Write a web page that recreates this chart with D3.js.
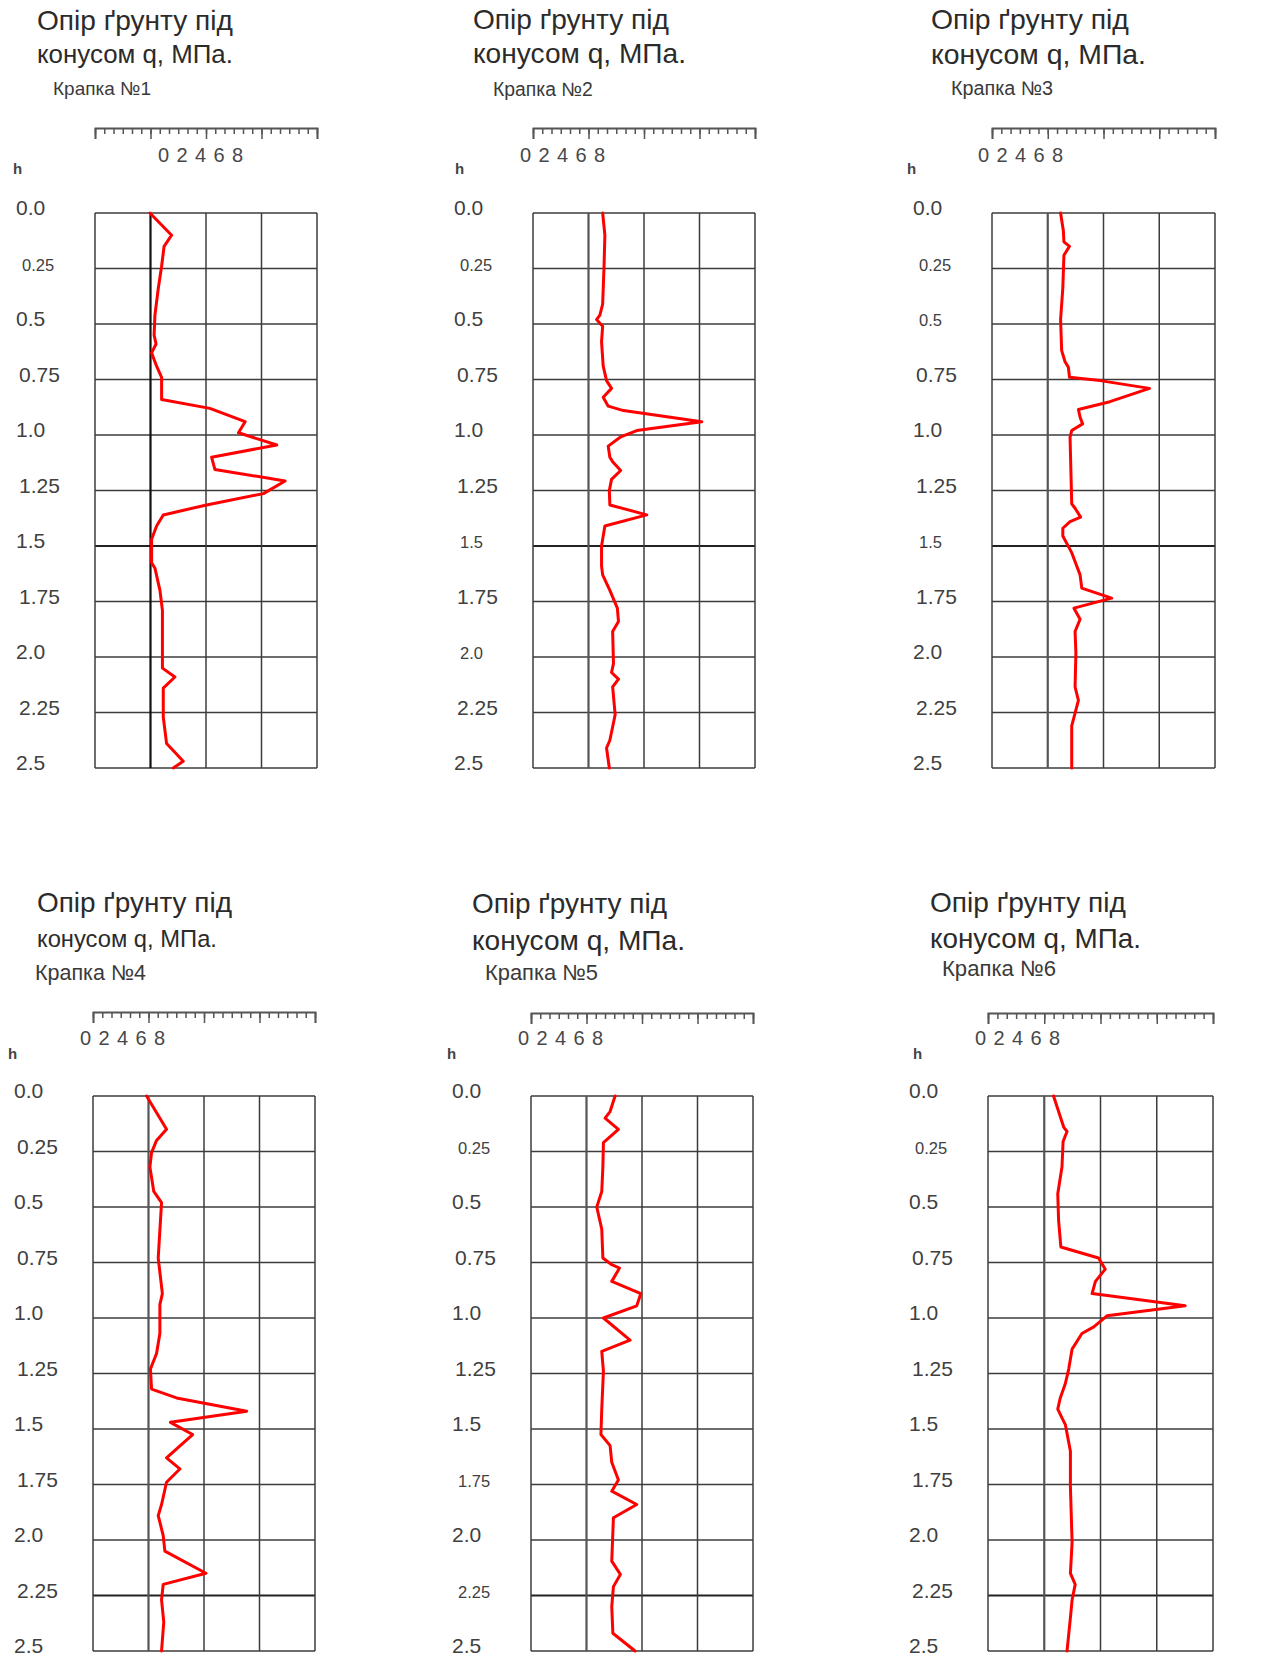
<!DOCTYPE html>
<html>
<head>
<meta charset="utf-8">
<script src="https://cdn.jsdelivr.net/npm/d3@7"></script>
<style>
  html, body { margin: 0; padding: 0; background: #fff; }
  svg { display: block; font-family: "Liberation Sans", Arial, sans-serif; }
</style>
</head>
<body>
<svg id="chart" width="1263" height="1663"></svg>
<script>
// ---- data ----
const depthTicks = [0, 0.25, 0.5, 0.75, 1.0, 1.25, 1.5, 1.75, 2.0, 2.25, 2.5];
const depthLabels = ["0.0", "0.25", "0.5", "0.75", "1.0", "1.25", "1.5", "1.75", "2.0", "2.25", "2.5"];
const qTicks = [0, 2, 4, 6, 8];
const qTickLabels = ["0", "2", "4", "6", "8"];
const titleLine1 = "Опір ґрунту під";
const titleLine2 = "конусом q, МПа.";
const depthAxisName = "h";
const pointNames = ["Крапка №1", "Крапка №2", "Крапка №3", "Крапка №4", "Крапка №5", "Крапка №6"];

// cone resistance q (MPa) against depth h (m) for every sounding point
const p1Depth = [0, 0.10, 0.15, 0.24, 0.34, 0.46, 0.55, 0.59, 0.63, 0.69, 0.74, 0.84, 0.88, 0.94, 0.99, 1.045, 1.10, 1.155, 1.207, 1.264, 1.315, 1.36, 1.41, 1.47, 1.575, 1.60, 1.70, 1.79, 2.05, 2.09, 2.14, 2.27, 2.39, 2.47, 2.5];
const p1Q     = [1.98, 2.76, 2.49, 2.40, 2.28, 2.16, 2.13, 2.20, 2.04, 2.22, 2.40, 2.40, 4.14, 5.41, 5.17, 6.55, 4.20, 4.32, 6.85, 6.07, 4.02, 2.46, 2.22, 2.04, 2.04, 2.16, 2.34, 2.43, 2.43, 2.88, 2.46, 2.46, 2.58, 3.18, 2.82];

const p2Depth = [0, 0.10, 0.24, 0.41, 0.46, 0.48, 0.51, 0.58, 0.69, 0.755, 0.79, 0.83, 0.87, 0.89, 0.94, 0.98, 1.01, 1.05, 1.10, 1.12, 1.16, 1.20, 1.25, 1.315, 1.36, 1.41, 1.50, 1.59, 1.63, 1.70, 1.78, 1.84, 1.885, 2.03, 2.07, 2.10, 2.135, 2.26, 2.375, 2.41, 2.5];
const p2Q     = [2.51, 2.59, 2.56, 2.51, 2.41, 2.29, 2.51, 2.47, 2.53, 2.65, 2.83, 2.53, 2.71, 3.26, 6.08, 3.74, 3.14, 2.71, 2.77, 2.87, 3.16, 2.83, 2.75, 2.77, 4.10, 2.59, 2.47, 2.47, 2.51, 2.77, 3.04, 3.08, 2.87, 2.90, 2.83, 3.08, 2.87, 2.96, 2.77, 2.65, 2.75];

const p3Depth = [0, 0.08, 0.13, 0.15, 0.19, 0.34, 0.48, 0.62, 0.67, 0.695, 0.74, 0.755, 0.79, 0.85, 0.885, 0.92, 0.95, 0.98, 1.01, 1.31, 1.33, 1.37, 1.39, 1.42, 1.455, 1.53, 1.63, 1.69, 1.735, 1.78, 1.83, 1.885, 1.98, 2.135, 2.195, 2.31, 2.5];
const p3Q     = [2.46, 2.56, 2.58, 2.78, 2.58, 2.54, 2.46, 2.50, 2.62, 2.74, 2.78, 3.88, 5.65, 4.23, 3.10, 3.16, 3.25, 2.86, 2.80, 2.86, 2.98, 3.18, 2.80, 2.54, 2.54, 2.86, 3.16, 3.22, 4.29, 2.94, 3.16, 2.98, 3.01, 2.98, 3.10, 2.86, 2.86];

const p4Depth = [0, 0.15, 0.20, 0.255, 0.32, 0.43, 0.48, 0.73, 0.89, 0.94, 1.07, 1.16, 1.23, 1.32, 1.36, 1.42, 1.47, 1.525, 1.63, 1.68, 1.74, 1.84, 1.89, 1.98, 2.05, 2.15, 2.20, 2.27, 2.37, 2.5];
const p4Q     = [1.93, 2.65, 2.29, 2.11, 2.05, 2.19, 2.47, 2.35, 2.50, 2.41, 2.41, 2.29, 2.07, 2.11, 3.01, 5.54, 2.79, 3.59, 2.65, 3.13, 2.65, 2.47, 2.35, 2.53, 2.59, 4.07, 2.53, 2.47, 2.55, 2.47];

const p5Depth = [0, 0.07, 0.10, 0.15, 0.21, 0.32, 0.43, 0.50, 0.60, 0.73, 0.76, 0.775, 0.835, 0.89, 0.945, 1.00, 1.10, 1.15, 1.24, 1.41, 1.525, 1.575, 1.65, 1.73, 1.78, 1.84, 1.90, 2.095, 2.155, 2.21, 2.30, 2.42, 2.5];
const p5Q     = [3.03, 2.85, 2.67, 3.15, 2.61, 2.59, 2.55, 2.37, 2.55, 2.59, 2.91, 3.19, 2.91, 3.96, 3.81, 2.61, 3.57, 2.55, 2.61, 2.55, 2.52, 2.85, 2.91, 3.15, 2.91, 3.81, 2.97, 2.91, 3.22, 2.97, 2.91, 2.95, 3.75];

const p6Depth = [0, 0.14, 0.16, 0.205, 0.32, 0.44, 0.56, 0.68, 0.73, 0.78, 0.835, 0.89, 0.945, 0.99, 1.04, 1.07, 1.14, 1.23, 1.295, 1.36, 1.41, 1.45, 1.48, 1.60, 1.76, 2.01, 2.15, 2.20, 2.27, 2.35, 2.5];
const p6Q     = [2.33, 2.69, 2.81, 2.67, 2.63, 2.48, 2.51, 2.59, 3.93, 4.17, 3.82, 3.70, 7.01, 4.23, 3.76, 3.34, 2.99, 2.87, 2.75, 2.57, 2.48, 2.63, 2.75, 2.93, 2.93, 2.99, 2.93, 3.10, 2.99, 2.93, 2.81];

const profiles = [
  [p1Depth, p1Q], [p2Depth, p2Q], [p3Depth, p3Q],
  [p4Depth, p4Q], [p5Depth, p5Q], [p6Depth, p6Q]
];

// ---- panel layout (pixels) ----
const panels = [
  { left: 95,  right: 317,  top: 213,  bottom: 768,  axisY: 128,  tickX: 158, tickY: 162,  hX: 13,  hY: 174,
    textX: 37,  l1Y: 30,  l2Y: 63,  l1W: 196, l2W: 196, subX: 53,  subY: 95,  subW: 98,  small: ["0.25"], strongDepth: 1.5,  strongQ: "#111" },
  { left: 533, right: 755,  top: 213,  bottom: 768,  axisY: 128,  tickX: 520, tickY: 162,  hX: 455, hY: 174,
    textX: 473, l1Y: 29,  l2Y: 63,  l1W: 196, l2W: 213, subX: 493, subY: 96,  subW: 100, small: ["0.25", "1.5", "2.0"], strongDepth: 1.5, strongQ: "#555" },
  { left: 992, right: 1215, top: 213,  bottom: 768,  axisY: 128,  tickX: 978, tickY: 162,  hX: 907, hY: 174,
    textX: 931, l1Y: 29,  l2Y: 64,  l1W: 198, l2W: 215, subX: 951, subY: 95,  subW: 102, small: ["0.25", "0.5", "1.5"], strongDepth: 1.5, strongQ: "#555" },
  { left: 93,  right: 315,  top: 1096, bottom: 1651, axisY: 1012, tickX: 80,  tickY: 1045, hX: 8,   hY: 1059,
    textX: 37,  l1Y: 912, l2Y: 947, l1W: 195, l2W: 180, subX: 35,  subY: 980, subW: 111, small: [], strongDepth: 2.25, strongQ: "#555" },
  { left: 531, right: 753,  top: 1096, bottom: 1651, axisY: 1013, tickX: 518, tickY: 1045, hX: 447, hY: 1059,
    textX: 472, l1Y: 913, l2Y: 950, l1W: 195, l2W: 213, subX: 485, subY: 980, subW: 113, small: ["0.25", "1.75", "2.25"], strongDepth: 2.25, strongQ: "#555" },
  { left: 988, right: 1213, top: 1096, bottom: 1651, axisY: 1013, tickX: 975, tickY: 1045, hX: 913, hY: 1059,
    textX: 930, l1Y: 912, l2Y: 948, l1W: 196, l2W: 211, subX: 942, subY: 976, subW: 114, small: ["0.25"], strongDepth: 2.25, strongQ: "#555" }
];

const svg = d3.select("#chart");

// sets a text's font size so that it spans the requested width
function fitText(sel, width) {
  sel.attr("font-size", 100);
  const w = sel.node().getComputedTextLength();
  sel.attr("font-size", (100 * width / w).toFixed(2));
}

const minorTicks = d3.range(0, 8.001, 1 / 3);

panels.forEach((p, i) => {
  const [depth, q] = profiles[i];
  const x = d3.scaleLinear().domain([0, 8]).range([p.left, p.right]);
  const y = d3.scaleLinear().domain([0, 2.5]).range([p.top, p.bottom]);
  const g = svg.append("g");

  // heading
  const t1 = g.append("text").attr("x", p.textX).attr("y", p.l1Y).attr("fill", "#2b2b2b").text(titleLine1);
  fitText(t1, p.l1W);
  const t2 = g.append("text").attr("x", p.textX).attr("y", p.l2Y).attr("fill", "#2b2b2b").text(titleLine2);
  fitText(t2, p.l2W);
  const t3 = g.append("text").attr("x", p.subX).attr("y", p.subY).attr("fill", "#3a3a3a").text(pointNames[i]);
  fitText(t3, p.subW);

  // top scale: major and minor ticks
  const axisMajor = d3.axisBottom(x).tickValues(qTicks).tickSize(11).tickSizeOuter(11).tickFormat("");
  const axisMinor = d3.axisBottom(x).tickValues(minorTicks).tickSize(6).tickSizeOuter(0).tickFormat("");
  const ga = g.append("g").attr("transform", `translate(0,${p.axisY})`);
  ga.call(axisMinor);
  ga.select(".domain").remove();
  const gb = g.append("g").attr("transform", `translate(0,${p.axisY})`);
  gb.call(axisMajor);
  g.selectAll(".tick line").attr("stroke", "#555").attr("stroke-width", 1.5);
  gb.select(".domain").attr("stroke", "#555").attr("stroke-width", 1.8);

  // compact tick labels
  const lx = d3.scalePoint().domain(qTickLabels).range([p.tickX + 5.5, p.tickX + 79.5]);
  g.append("g").selectAll("text").data(qTickLabels).join("text")
    .attr("x", d => lx(d)).attr("y", p.tickY)
    .attr("text-anchor", "middle").attr("font-size", 20).attr("fill", "#484848")
    .text(d => d);

  // depth axis name
  g.append("text").attr("x", p.hX).attr("y", p.hY).attr("font-size", 15).attr("font-weight", "bold")
    .attr("fill", "#444").text(depthAxisName);

  // grid
  const grid = g.append("g");
  grid.selectAll("line.h").data(depthTicks).join("line").attr("class", "h")
    .attr("x1", p.left).attr("x2", p.right)
    .attr("y1", d => y(d)).attr("y2", d => y(d))
    .attr("stroke", d => d === p.strongDepth ? "#222" : "#3c3c3c")
    .attr("stroke-width", d => d === p.strongDepth ? 2.2 : 1.5);
  grid.selectAll("line.v").data(qTicks).join("line").attr("class", "v")
    .attr("x1", d => x(d)).attr("x2", d => x(d))
    .attr("y1", p.top).attr("y2", p.bottom)
    .attr("stroke", d => d === 2 ? p.strongQ : "#3c3c3c")
    .attr("stroke-width", d => d === 2 ? 2.2 : 1.5);

  // depth labels
  g.append("g").selectAll("text").data(depthTicks).join("text")
    .attr("x", (d, k) => p.left - 79 + (p.small.includes(depthLabels[k]) ? 6 : (depthLabels[k].length > 3 ? 3 : 0)))
    .attr("y", d => y(d) + 2)
    .attr("font-size", (d, k) => p.small.includes(depthLabels[k]) ? 16.5 : 21)
    .attr("fill", "#404040")
    .text((d, k) => depthLabels[k]);

  // sounding curve
  const pts = depth.map((d, k) => [q[k], d]);
  const line = d3.line().x(d => x(d[0])).y(d => y(d[1]));
  g.append("path").datum(pts).attr("d", line)
    .attr("fill", "none").attr("stroke", "#ff0000")
    .attr("stroke-width", 3).attr("stroke-linejoin", "round").attr("stroke-linecap", "round");
});
</script>
</body>
</html>
